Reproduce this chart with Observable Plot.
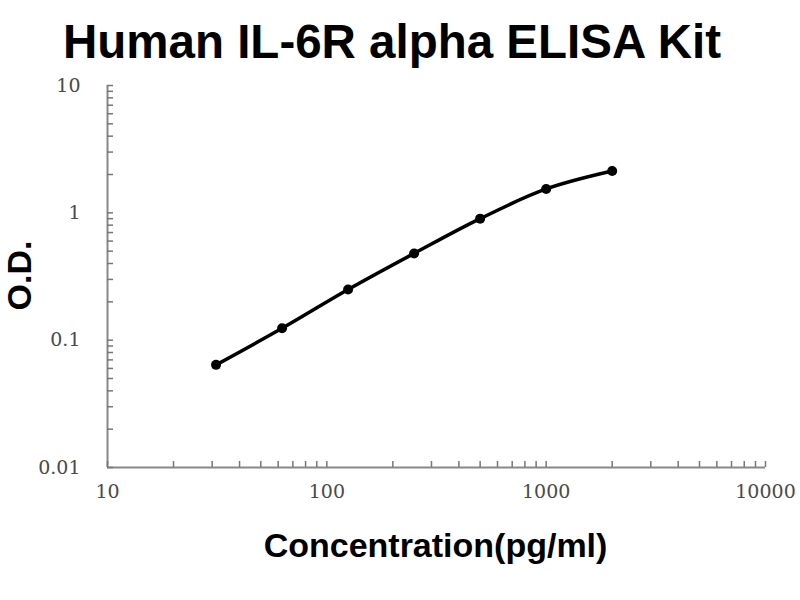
<!DOCTYPE html>
<html lang="en">
<head>
    <meta charset="UTF-8">
    <title>Human IL-6R alpha ELISA Kit</title>
    <script src="https://cdn.jsdelivr.net/npm/d3@7"></script>
    <script src="https://cdn.jsdelivr.net/npm/@observablehq/plot@0.6/dist/plot.umd.min.js"></script>
    <style>
        body { margin: 0; background: #fff; }
        h1 {
            margin: 0; height: 70px; width: 784px;
            font: bold 47.5px "Liberation Sans", Arial, sans-serif;
            text-align: center; line-height: 84px;
            color: #000;
        }
    </style>
</head>
<body>

<h1>Human IL-6R alpha ELISA Kit</h1>
<div id="graph"></div>

<script>
// standard curve points
const concentration = [31.25, 62.5, 125, 250, 500, 1000, 2000];
const od = [0.064, 0.124, 0.25, 0.48, 0.90, 1.54, 2.13];

// tick labels
const xTicks = [10, 100, 1000, 10000];
const yTicks = [0.01, 0.1, 1, 10];

const data = concentration.map((c, i) => ({conc: c, od: od[i]}));

// minor ticks between decades
function minors(lo, hi) {
    const out = [];
    for (let d = lo; d < hi; d *= 10) {
        for (let k = 1; k <= 10; k++) out.push(+(d * k).toPrecision(3));
    }
    return Array.from(new Set(out));
}

const labelFont = "'Liberation Sans', Arial, sans-serif";

const plot = Plot.plot({
    width: 800,
    height: 530,
    marginTop: 15,
    marginLeft: 107,
    marginRight: 35,
    marginBottom: 133,
    style: {fontFamily: "'DejaVu Serif', serif", fontSize: "19px", color: "#4a4a4a", background: "#fff"},
    x: {type: "log", domain: [10, 10000], label: null},
    y: {type: "log", domain: [0.01, 10], label: null},
    marks: [
        Plot.ruleX([10], {stroke: "#888", strokeWidth: 2}),
        Plot.ruleY([0.01], {stroke: "#888", strokeWidth: 2}),
        Plot.axisY(minors(0.01, 10), {anchor: "left", tickSize: -6, text: null, label: null, stroke: "#777", strokeWidth: 1.5}),
        Plot.axisX(minors(10, 10000), {anchor: "bottom", tickSize: -6, text: null, label: null, stroke: "#777", strokeWidth: 1.5}),
        Plot.axisY(yTicks, {anchor: "left", tickSize: 0, tickPadding: 27, label: null, tickFormat: d => String(d), fill: "#4a4a4a"}),
        Plot.axisX(xTicks, {anchor: "bottom", tickSize: 0, tickPadding: 17, label: null, tickFormat: d => String(d), fill: "#4a4a4a"}),
        Plot.line(data, {x: "conc", y: "od", curve: "catmull-rom", stroke: "#000", strokeWidth: 3.5}),
        Plot.dot(data, {x: "conc", y: "od", r: 5, fill: "#000"}),
        Plot.text(["O.D."], {frameAnchor: "left", dx: -87, dy: 34, rotate: -90, fontFamily: labelFont, fontWeight: "bold", fontSize: 34, fill: "#000"}),
        Plot.text(["Concentration(pg/ml)"], {frameAnchor: "bottom", dx: -1, dy: 89, fontFamily: labelFont, fontWeight: "bold", fontSize: 34, fill: "#000"})
    ]
});

document.querySelector("#graph").append(plot);
</script>
</body>
</html>
